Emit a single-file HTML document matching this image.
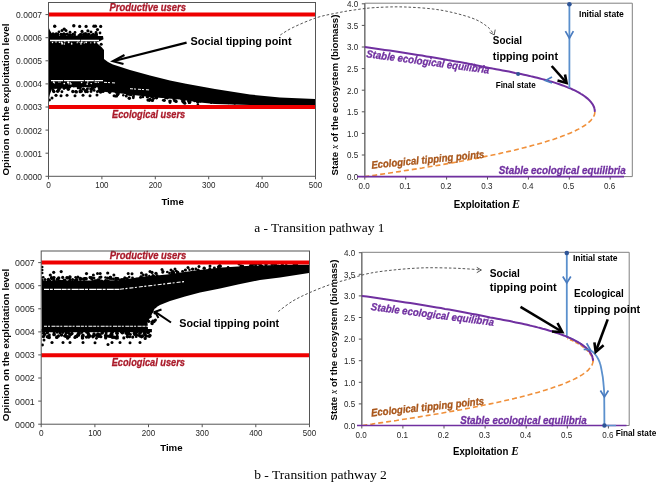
<!DOCTYPE html>
<html><head><meta charset="utf-8"><style>html,body{margin:0;padding:0;background:#fff;overflow:hidden;width:658px;height:483px;}svg{display:block;will-change:transform;}</style></head>
<body>
<svg width="658" height="483" viewBox="0 0 658 483">
<rect width="658" height="483" fill="#fff"/>
<path d="M48.5,27 L50,30.5 L53,35.5 L103,36 L103.5,39.3 L99,41.5 L96.5,42.5 L98.5,44.5 L101.5,47 L104,50 L104,59 L108,62 L113,64.5 L130,70 L150,75.5 L170,80.5 L186,83.8 L215,89 L250,94.5 L280,97.5 L315,99 L315,105.5 L280,105.5 L250,105 L215,104 L200,102.5 L180,99.5 L150,97 L125,94 L110,92 L104,90 L98,87.5 L90,87 L80,87.5 L70,87 L60,88 L52,89 L50,94 L48.5,101 Z" fill="#000"/>
<g fill="#000"><circle cx="54.7" cy="26.2" r="1.7"/><circle cx="73.8" cy="25.7" r="1.7"/><circle cx="79.7" cy="26.4" r="1.6"/><circle cx="86.1" cy="26.4" r="1.6"/><circle cx="93.9" cy="26.2" r="1.6"/><circle cx="95.5" cy="26.2" r="1.6"/><circle cx="100.7" cy="26.4" r="1.6"/><circle cx="97.5" cy="29.6" r="1.6"/><circle cx="64.2" cy="29.1" r="1.7"/><circle cx="82" cy="31.4" r="1.6"/><circle cx="87.9" cy="30.8" r="1.6"/><circle cx="101.2" cy="44.2" r="1.5"/><circle cx="56" cy="95.3" r="1.6"/><circle cx="61" cy="95.8" r="1.5"/><circle cx="67" cy="95.3" r="1.5"/><circle cx="75" cy="95.8" r="1.5"/><circle cx="83" cy="95.3" r="1.5"/><circle cx="90" cy="95.8" r="1.5"/><circle cx="97" cy="95" r="1.5"/><circle cx="52" cy="98" r="1.5"/><circle cx="49.5" cy="100" r="1.4"/><circle cx="67.2" cy="34.1" r="1.58"/><circle cx="53.8" cy="35.0" r="1.43"/><circle cx="53.1" cy="34.9" r="1.27"/><circle cx="73.0" cy="34.0" r="1.3"/><circle cx="72.5" cy="35.6" r="1.31"/><circle cx="61.8" cy="35.2" r="1.72"/><circle cx="80.6" cy="34.7" r="1.74"/><circle cx="52.5" cy="35.7" r="1.39"/><circle cx="57.6" cy="34.1" r="1.4"/><circle cx="93.3" cy="34.2" r="1.54"/><circle cx="83.9" cy="34.6" r="1.52"/><circle cx="53.3" cy="33.9" r="1.35"/><circle cx="86.1" cy="34.7" r="1.41"/><circle cx="81.0" cy="34.8" r="1.4"/><circle cx="92.1" cy="35.3" r="1.37"/><circle cx="80.4" cy="35.0" r="1.69"/><circle cx="88.7" cy="34.4" r="1.74"/><circle cx="56.3" cy="34.7" r="1.63"/><circle cx="58.1" cy="34.9" r="1.27"/><circle cx="85.4" cy="35.5" r="1.54"/><circle cx="96.4" cy="34.5" r="1.6"/><circle cx="81.5" cy="35.1" r="1.48"/><circle cx="94.5" cy="35.9" r="1.49"/><circle cx="85.2" cy="33.9" r="1.6"/><circle cx="84.3" cy="36.0" r="1.66"/><circle cx="65.1" cy="34.6" r="1.58"/><circle cx="51.2" cy="34.8" r="1.33"/><circle cx="56.2" cy="33.9" r="1.63"/><circle cx="56.9" cy="34.3" r="1.45"/><circle cx="96.2" cy="34.0" r="1.47"/><circle cx="79.1" cy="35.7" r="1.66"/><circle cx="95.8" cy="34.4" r="1.46"/><circle cx="69.0" cy="35.7" r="1.73"/><circle cx="58.0" cy="34.2" r="1.37"/><circle cx="62.4" cy="34.9" r="1.54"/><circle cx="63.9" cy="33.8" r="1.46"/><circle cx="69.6" cy="35.0" r="1.73"/><circle cx="86.6" cy="34.9" r="1.56"/><circle cx="85.8" cy="33.9" r="1.7"/><circle cx="91.3" cy="35.7" r="1.65"/><circle cx="70.8" cy="34.7" r="1.3"/><circle cx="83.6" cy="33.9" r="1.28"/><circle cx="61.1" cy="34.2" r="1.42"/><circle cx="52.8" cy="33.8" r="1.33"/><circle cx="55.4" cy="34.6" r="1.26"/><circle cx="96.3" cy="35.2" r="1.32"/><circle cx="63.4" cy="34.6" r="1.43"/><circle cx="56.5" cy="35.7" r="1.75"/><circle cx="74.7" cy="34.9" r="1.29"/><circle cx="55.4" cy="34.6" r="1.38"/><circle cx="62" cy="30.5" r="1.5"/><circle cx="66" cy="30.5" r="1.5"/><circle cx="59" cy="31.8" r="1.4"/><circle cx="91" cy="32" r="1.5"/><circle cx="75" cy="32.5" r="1.4"/><circle cx="70" cy="32.2" r="1.4"/><circle cx="96" cy="32.5" r="1.4"/><circle cx="100" cy="33" r="1.4"/><circle cx="94.8" cy="87.0" r="1.26"/><circle cx="101.4" cy="89.2" r="1.32"/><circle cx="79.3" cy="86.2" r="1.51"/><circle cx="102.8" cy="91.2" r="1.6"/><circle cx="64.1" cy="88.2" r="1.33"/><circle cx="91.7" cy="89.2" r="1.64"/><circle cx="67.8" cy="87.3" r="1.66"/><circle cx="103.2" cy="91.1" r="1.65"/><circle cx="94.2" cy="90.4" r="1.36"/><circle cx="78.0" cy="88.1" r="1.26"/><circle cx="51.5" cy="87.7" r="1.38"/><circle cx="87.4" cy="91.7" r="1.47"/><circle cx="100.6" cy="91.9" r="1.73"/><circle cx="69.7" cy="87.3" r="1.36"/><circle cx="60.6" cy="87.2" r="1.56"/><circle cx="98.6" cy="91.0" r="1.49"/><circle cx="85.3" cy="90.8" r="1.29"/><circle cx="85.7" cy="91.5" r="1.64"/><circle cx="90.5" cy="88.9" r="1.34"/><circle cx="92.6" cy="88.0" r="1.65"/><circle cx="102.5" cy="88.4" r="1.45"/><circle cx="101.1" cy="90.3" r="1.34"/><circle cx="56.9" cy="86.9" r="1.7"/><circle cx="93.6" cy="86.9" r="1.66"/><circle cx="102.9" cy="89.9" r="1.43"/><circle cx="79.6" cy="86.8" r="1.26"/><circle cx="102.4" cy="89.9" r="1.51"/><circle cx="100.4" cy="88.6" r="1.69"/><circle cx="94.6" cy="87.3" r="1.38"/><circle cx="65.8" cy="87.4" r="1.54"/><circle cx="64.0" cy="88.5" r="1.32"/><circle cx="99.1" cy="88.1" r="1.48"/><circle cx="81.5" cy="91.4" r="1.46"/><circle cx="99.6" cy="89.0" r="1.52"/><circle cx="78.3" cy="86.1" r="1.47"/><circle cx="59.9" cy="86.0" r="1.65"/><circle cx="59.3" cy="88.8" r="1.61"/><circle cx="80.0" cy="88.0" r="1.51"/><circle cx="80.0" cy="90.7" r="1.3"/><circle cx="80.3" cy="87.5" r="1.39"/><circle cx="91.7" cy="89.0" r="1.53"/><circle cx="91.0" cy="91.5" r="1.47"/><circle cx="83.1" cy="89.0" r="1.51"/><circle cx="87.4" cy="88.7" r="1.52"/><circle cx="75.8" cy="91.6" r="1.6"/><circle cx="97.3" cy="91.7" r="1.38"/><circle cx="80.2" cy="91.7" r="1.67"/><circle cx="57.4" cy="86.7" r="1.47"/><circle cx="53.9" cy="87.4" r="1.29"/><circle cx="86.2" cy="90.7" r="1.7"/><circle cx="58.3" cy="90.3" r="1.58"/><circle cx="57.7" cy="91.3" r="1.73"/><circle cx="61.9" cy="91.7" r="1.45"/><circle cx="76.3" cy="91.9" r="1.67"/><circle cx="58.7" cy="88.6" r="1.51"/><circle cx="68.3" cy="87.2" r="1.41"/><circle cx="89.0" cy="86.1" r="1.53"/><circle cx="73.8" cy="86.1" r="1.42"/><circle cx="83.7" cy="89.1" r="1.28"/><circle cx="103.2" cy="90.7" r="1.74"/><circle cx="55.7" cy="87.6" r="1.27"/><circle cx="92.1" cy="87.6" r="1.31"/><circle cx="72.8" cy="91.5" r="1.66"/><circle cx="64.0" cy="86.9" r="1.71"/><circle cx="80.8" cy="90.2" r="1.29"/><circle cx="53.1" cy="90.1" r="1.46"/><circle cx="53.9" cy="91.6" r="1.57"/><circle cx="93.3" cy="86.5" r="1.68"/><circle cx="53.6" cy="91.2" r="1.48"/><circle cx="68.3" cy="89.3" r="1.71"/><circle cx="129.7" cy="94.2" r="1.51"/><circle cx="126.9" cy="93.8" r="1.33"/><circle cx="108.8" cy="91.6" r="1.41"/><circle cx="133.3" cy="97.8" r="1.39"/><circle cx="152.0" cy="97.1" r="1.42"/><circle cx="105.7" cy="90.8" r="1.26"/><circle cx="174.4" cy="100.8" r="1.34"/><circle cx="149.6" cy="100.6" r="1.3"/><circle cx="182.6" cy="100.9" r="1.5"/><circle cx="184.1" cy="100.8" r="1.5"/><circle cx="170.0" cy="102.6" r="1.42"/><circle cx="183.9" cy="102.3" r="1.57"/><circle cx="142.9" cy="96.9" r="1.28"/><circle cx="116.5" cy="92.2" r="1.62"/><circle cx="128.5" cy="94.2" r="1.29"/><circle cx="184.8" cy="103.2" r="1.59"/><circle cx="131.1" cy="94.9" r="1.4"/><circle cx="148.1" cy="96.6" r="1.47"/><circle cx="129.3" cy="98.3" r="1.74"/><circle cx="156.5" cy="97.8" r="1.73"/><circle cx="133.7" cy="95.8" r="1.25"/><circle cx="140.6" cy="97.2" r="1.5"/><circle cx="123.3" cy="95.3" r="1.25"/><circle cx="129.4" cy="94.0" r="1.45"/><circle cx="108.0" cy="90.4" r="1.4"/><circle cx="126.3" cy="96.1" r="1.51"/><circle cx="176.1" cy="101.5" r="1.61"/><circle cx="188.4" cy="101.1" r="1.41"/><circle cx="198.5" cy="100.6" r="1.61"/><circle cx="165.7" cy="97.5" r="1.67"/><circle cx="189.6" cy="102.4" r="1.62"/><circle cx="182.0" cy="99.3" r="1.51"/><circle cx="152.4" cy="100.4" r="1.65"/><circle cx="183.3" cy="101.7" r="1.7"/><circle cx="169.6" cy="101.1" r="1.36"/><circle cx="107.0" cy="90.7" r="1.43"/><circle cx="114.1" cy="95.7" r="1.53"/><circle cx="164.3" cy="100.3" r="1.59"/><circle cx="151.0" cy="96.1" r="1.65"/><circle cx="175.8" cy="100.7" r="1.52"/><circle cx="167.3" cy="97.8" r="1.62"/><circle cx="128.2" cy="93.8" r="1.38"/><circle cx="174.0" cy="99.0" r="1.62"/><circle cx="197.7" cy="102.3" r="1.44"/><circle cx="150.0" cy="99.4" r="1.63"/><circle cx="163.2" cy="100.3" r="1.29"/><circle cx="118.2" cy="93.4" r="1.62"/><circle cx="133.2" cy="96.8" r="1.26"/><circle cx="109.8" cy="92.3" r="1.59"/><circle cx="170.4" cy="101.1" r="1.4"/><circle cx="153.6" cy="98.6" r="1.48"/><circle cx="115.4" cy="96.2" r="1.35"/><circle cx="197.9" cy="104.5" r="1.26"/><circle cx="148.1" cy="99.9" r="1.73"/><circle cx="147.1" cy="97.0" r="1.35"/><circle cx="194.8" cy="100.7" r="1.54"/><circle cx="117.6" cy="94.6" r="1.73"/><circle cx="116.7" cy="96.0" r="1.5"/><circle cx="189.1" cy="102.7" r="1.37"/><circle cx="190.2" cy="101.7" r="1.26"/><circle cx="200.4" cy="101.3" r="1.28"/><circle cx="233.2" cy="101.9" r="1.22"/><circle cx="234.8" cy="103.7" r="1.05"/><circle cx="282.6" cy="104.6" r="1.11"/><circle cx="301.9" cy="104.6" r="1.5"/><circle cx="231.9" cy="102.4" r="1.25"/><circle cx="309.9" cy="104.4" r="1.23"/><circle cx="247.1" cy="102.6" r="1.07"/><circle cx="211.2" cy="102.8" r="1.19"/><circle cx="302.9" cy="103.4" r="1.18"/><circle cx="256.2" cy="102.6" r="1.24"/><circle cx="305.2" cy="105.1" r="1.46"/><circle cx="269.4" cy="104.6" r="1.52"/><circle cx="260.4" cy="104.0" r="1.07"/><circle cx="280.6" cy="103.6" r="1.43"/><circle cx="270.9" cy="103.0" r="1.07"/><circle cx="301.9" cy="103.1" r="1.29"/><circle cx="237.8" cy="102.4" r="1.42"/><circle cx="307.4" cy="103.5" r="1.38"/><circle cx="233.1" cy="102.9" r="1.25"/><circle cx="218.4" cy="101.5" r="1.15"/><circle cx="299.7" cy="104.0" r="1.16"/><circle cx="299.7" cy="105.3" r="1.27"/><circle cx="215.4" cy="101.5" r="1.1"/><circle cx="237.6" cy="101.9" r="1.17"/><circle cx="228.4" cy="102.8" r="1.49"/><circle cx="282.5" cy="103.5" r="1.26"/><circle cx="257.7" cy="103.1" r="1.22"/><circle cx="206.8" cy="101.1" r="1.53"/><circle cx="213.8" cy="102.2" r="1.36"/><circle cx="294.9" cy="103.2" r="1.19"/><circle cx="227.3" cy="102.4" r="1.27"/><circle cx="304.9" cy="105.0" r="1.49"/><circle cx="202.4" cy="100.2" r="1.4"/><circle cx="298.5" cy="103.9" r="1.34"/><circle cx="200.0" cy="101.0" r="1.51"/><circle cx="290.8" cy="104.8" r="1.54"/><circle cx="227.3" cy="101.6" r="1.13"/><circle cx="257.5" cy="103.8" r="1.52"/><circle cx="279.4" cy="104.1" r="1.43"/></g>
<line x1="50" y1="40.5" x2="99" y2="40.5" stroke="#fff" stroke-width="1.6" stroke-dasharray="30 0.6 20 0.8 40"/>
<line x1="51" y1="80.7" x2="103" y2="80.7" stroke="#fff" stroke-width="1.3" stroke-dasharray="12 0.8 20 1 9 0.7 30"/>
<line x1="104" y1="82.3" x2="116" y2="83" stroke="#fff" stroke-width="1" stroke-dasharray="3 1 2 2"/>
<line x1="130" y1="88.7" x2="150" y2="90" stroke="#fff" stroke-width="1" stroke-dasharray="3 1 2 2"/>
<g fill="#fff"><circle cx="71.6" cy="43.0" r="0.57"/><circle cx="86.2" cy="42.3" r="0.92"/><circle cx="80.0" cy="42.5" r="0.6"/><circle cx="62.3" cy="43.2" r="0.83"/><circle cx="56.0" cy="42.0" r="0.76"/><circle cx="77.2" cy="42.7" r="0.64"/><circle cx="78.0" cy="41.8" r="0.67"/><circle cx="71.7" cy="43.9" r="0.81"/><circle cx="90.8" cy="42.8" r="0.64"/><circle cx="62.1" cy="43.9" r="0.83"/><circle cx="64.8" cy="41.8" r="0.75"/><circle cx="81.4" cy="42.7" r="0.65"/><circle cx="81.0" cy="43.8" r="0.64"/><circle cx="52.5" cy="42.5" r="0.72"/><circle cx="81.7" cy="42.2" r="0.87"/><circle cx="84.3" cy="42.9" r="0.63"/><circle cx="94.6" cy="42.5" r="0.88"/><circle cx="61.4" cy="42.3" r="0.85"/><circle cx="64.3" cy="43.9" r="0.75"/><circle cx="59.4" cy="42.3" r="0.72"/><circle cx="80.9" cy="43.9" r="0.61"/><circle cx="68.7" cy="42.3" r="0.94"/><circle cx="58.8" cy="82.1" r="0.52"/><circle cx="70.9" cy="83.8" r="0.85"/><circle cx="87.2" cy="84.0" r="0.87"/><circle cx="67.8" cy="82.4" r="0.87"/><circle cx="87.8" cy="82.1" r="0.77"/><circle cx="70.2" cy="82.7" r="0.63"/><circle cx="60.1" cy="82.0" r="0.61"/><circle cx="68.9" cy="83.9" r="0.55"/><circle cx="98.3" cy="82.4" r="0.64"/><circle cx="91.4" cy="83.6" r="0.67"/><circle cx="54.4" cy="82.9" r="0.65"/><circle cx="96.1" cy="82.4" r="0.65"/><circle cx="95.1" cy="82.1" r="0.66"/><circle cx="91.0" cy="83.5" r="0.52"/><circle cx="53.7" cy="82.1" r="0.87"/><circle cx="64.3" cy="83.5" r="0.86"/><circle cx="68.3" cy="82.5" r="0.88"/><circle cx="81.6" cy="82.5" r="0.79"/></g>
<line x1="48.5" y1="14.6" x2="315.5" y2="14.6" stroke="#ee0000" stroke-width="4"/>
<line x1="48.5" y1="107" x2="315.5" y2="107" stroke="#ee0000" stroke-width="4"/>
<text x="109.5" y="10.6" font-family="Liberation Sans, sans-serif" font-size="10.8" fill="#aa1a2a" font-weight="bold" font-style="italic" text-anchor="start" textLength="76.5" lengthAdjust="spacingAndGlyphs" stroke="#aa1a2a" stroke-width="0.3">Productive users</text>
<text x="112.0" y="117.9" font-family="Liberation Sans, sans-serif" font-size="10.8" fill="#aa1a2a" font-weight="bold" font-style="italic" text-anchor="start" textLength="73.2" lengthAdjust="spacingAndGlyphs" stroke="#aa1a2a" stroke-width="0.3">Ecological users</text>
<rect x="48.5" y="2.5" width="267.0" height="173.8" fill="none" stroke="#555" stroke-width="1"/>
<line x1="45.5" y1="176.3" x2="48.5" y2="176.3" stroke="#555" stroke-width="1"/>
<text x="42.1" y="179.7" font-family="Liberation Sans, sans-serif" font-size="9.5" fill="#262626" font-weight="normal" font-style="normal" text-anchor="end" textLength="26" lengthAdjust="spacingAndGlyphs" >0.0000</text>
<line x1="45.5" y1="153.2" x2="48.5" y2="153.2" stroke="#555" stroke-width="1"/>
<text x="42.1" y="156.6" font-family="Liberation Sans, sans-serif" font-size="9.5" fill="#262626" font-weight="normal" font-style="normal" text-anchor="end" textLength="26" lengthAdjust="spacingAndGlyphs" >0.0001</text>
<line x1="45.5" y1="130.1" x2="48.5" y2="130.1" stroke="#555" stroke-width="1"/>
<text x="42.1" y="133.5" font-family="Liberation Sans, sans-serif" font-size="9.5" fill="#262626" font-weight="normal" font-style="normal" text-anchor="end" textLength="26" lengthAdjust="spacingAndGlyphs" >0.0002</text>
<line x1="45.5" y1="107.0" x2="48.5" y2="107.0" stroke="#555" stroke-width="1"/>
<text x="42.1" y="110.4" font-family="Liberation Sans, sans-serif" font-size="9.5" fill="#262626" font-weight="normal" font-style="normal" text-anchor="end" textLength="26" lengthAdjust="spacingAndGlyphs" >0.0003</text>
<line x1="45.5" y1="83.9" x2="48.5" y2="83.9" stroke="#555" stroke-width="1"/>
<text x="42.1" y="87.3" font-family="Liberation Sans, sans-serif" font-size="9.5" fill="#262626" font-weight="normal" font-style="normal" text-anchor="end" textLength="26" lengthAdjust="spacingAndGlyphs" >0.0004</text>
<line x1="45.5" y1="60.8" x2="48.5" y2="60.8" stroke="#555" stroke-width="1"/>
<text x="42.1" y="64.2" font-family="Liberation Sans, sans-serif" font-size="9.5" fill="#262626" font-weight="normal" font-style="normal" text-anchor="end" textLength="26" lengthAdjust="spacingAndGlyphs" >0.0005</text>
<line x1="45.5" y1="37.7" x2="48.5" y2="37.7" stroke="#555" stroke-width="1"/>
<text x="42.1" y="41.1" font-family="Liberation Sans, sans-serif" font-size="9.5" fill="#262626" font-weight="normal" font-style="normal" text-anchor="end" textLength="26" lengthAdjust="spacingAndGlyphs" >0.0006</text>
<line x1="45.5" y1="14.6" x2="48.5" y2="14.6" stroke="#555" stroke-width="1"/>
<text x="42.1" y="18.0" font-family="Liberation Sans, sans-serif" font-size="9.5" fill="#262626" font-weight="normal" font-style="normal" text-anchor="end" textLength="26" lengthAdjust="spacingAndGlyphs" >0.0007</text>
<line x1="48.5" y1="176.3" x2="48.5" y2="179.3" stroke="#555" stroke-width="1"/>
<text x="48.5" y="187.9" font-family="Liberation Sans, sans-serif" font-size="9.3" fill="#262626" font-weight="normal" font-style="normal" text-anchor="middle" textLength="4.6" lengthAdjust="spacingAndGlyphs" >0</text>
<line x1="101.9" y1="176.3" x2="101.9" y2="179.3" stroke="#555" stroke-width="1"/>
<text x="101.9" y="187.9" font-family="Liberation Sans, sans-serif" font-size="9.3" fill="#262626" font-weight="normal" font-style="normal" text-anchor="middle" textLength="13.3" lengthAdjust="spacingAndGlyphs" >100</text>
<line x1="155.3" y1="176.3" x2="155.3" y2="179.3" stroke="#555" stroke-width="1"/>
<text x="155.3" y="187.9" font-family="Liberation Sans, sans-serif" font-size="9.3" fill="#262626" font-weight="normal" font-style="normal" text-anchor="middle" textLength="13.3" lengthAdjust="spacingAndGlyphs" >200</text>
<line x1="208.7" y1="176.3" x2="208.7" y2="179.3" stroke="#555" stroke-width="1"/>
<text x="208.7" y="187.9" font-family="Liberation Sans, sans-serif" font-size="9.3" fill="#262626" font-weight="normal" font-style="normal" text-anchor="middle" textLength="13.3" lengthAdjust="spacingAndGlyphs" >300</text>
<line x1="262.1" y1="176.3" x2="262.1" y2="179.3" stroke="#555" stroke-width="1"/>
<text x="262.1" y="187.9" font-family="Liberation Sans, sans-serif" font-size="9.3" fill="#262626" font-weight="normal" font-style="normal" text-anchor="middle" textLength="13.3" lengthAdjust="spacingAndGlyphs" >400</text>
<line x1="315.5" y1="176.3" x2="315.5" y2="179.3" stroke="#555" stroke-width="1"/>
<text x="315.5" y="187.9" font-family="Liberation Sans, sans-serif" font-size="9.3" fill="#262626" font-weight="normal" font-style="normal" text-anchor="middle" textLength="13.3" lengthAdjust="spacingAndGlyphs" >500</text>
<text x="172.6" y="205.4" font-family="Liberation Sans, sans-serif" font-size="9.5" fill="#000" font-weight="bold" font-style="normal" text-anchor="middle" textLength="22.4" lengthAdjust="spacingAndGlyphs" >Time</text>
<text x="9.0" y="99.6" font-family="Liberation Sans, sans-serif" font-size="9.6" fill="#000" font-weight="bold" font-style="normal" text-anchor="middle" textLength="152" lengthAdjust="spacingAndGlyphs" transform="rotate(-90 9.0 99.6)" >Opinion on the exploitation level</text>
<text x="190.6" y="44.8" font-family="Liberation Sans, sans-serif" font-size="11" fill="#000" font-weight="bold" font-style="normal" text-anchor="start" textLength="101" lengthAdjust="spacingAndGlyphs" >Social tipping point</text>
<line x1="186.6" y1="42.6" x2="114" y2="61" stroke="#000" stroke-width="2.2"/>
<polyline points="124.5,55 113,61.2 123.5,64" fill="none" stroke="#000" stroke-width="2.2"/>
<path d="M41.5,276 L43,279.5 L44,281 L60,280.5 L90,280.5 L120,280.2 L140,277 L167,274.5 L195,270.5 L222,267.5 L250,265.8 L277,265 L309,264.8 L309,273 L280,277.5 L260,280 L239,284.2 L220,288.5 L200,292.5 L185,296.5 L170,301 L160,305 L155,308 L153,312 L150,318 L147.5,322 L148,329 L42,329 Z" fill="#000"/>
<path d="M41.5,329 L151.9,329 L151.9,332.2 L41.5,332.2 Z" fill="#000"/>
<g fill="#000"><circle cx="50.3" cy="275" r="1.6"/><circle cx="53.7" cy="272.3" r="1.6"/><circle cx="61.2" cy="271.6" r="1.6"/><circle cx="86.5" cy="273.6" r="1.6"/><circle cx="93.4" cy="275" r="1.5"/><circle cx="97.5" cy="273.6" r="1.5"/><circle cx="100.2" cy="273.6" r="1.5"/><circle cx="107.7" cy="273" r="1.6"/><circle cx="113.9" cy="275" r="1.5"/><circle cx="124.8" cy="277.7" r="1.5"/><circle cx="128.2" cy="273.6" r="1.5"/><circle cx="132" cy="273.8" r="1.5"/><circle cx="141.5" cy="273" r="1.5"/><circle cx="152" cy="272.4" r="1.6"/><circle cx="163" cy="271.5" r="1.5"/><circle cx="171" cy="270" r="1.5"/><circle cx="42.3" cy="267" r="1.2"/><circle cx="42.3" cy="270" r="1.2"/><circle cx="42.3" cy="273" r="1.2"/><circle cx="52" cy="342.5" r="1.6"/><circle cx="63" cy="342.5" r="1.5"/><circle cx="70" cy="342.5" r="1.5"/><circle cx="83" cy="342.5" r="1.5"/><circle cx="95" cy="342.8" r="1.5"/><circle cx="112" cy="342.5" r="1.5"/><circle cx="120" cy="342.5" r="1.5"/><circle cx="130" cy="342.8" r="1.5"/><circle cx="140" cy="342.5" r="1.5"/><circle cx="108" cy="344.5" r="1.5"/><circle cx="44" cy="340" r="1.5"/><circle cx="42.5" cy="345" r="1.4"/><circle cx="84.8" cy="278.2" r="1.25"/><circle cx="142.7" cy="281.1" r="1.57"/><circle cx="167.5" cy="277.1" r="1.37"/><circle cx="105.7" cy="281.3" r="1.73"/><circle cx="94.0" cy="278.1" r="1.46"/><circle cx="108.1" cy="281.2" r="1.34"/><circle cx="148.9" cy="280.3" r="1.66"/><circle cx="145.0" cy="279.7" r="1.41"/><circle cx="85.2" cy="278.6" r="1.64"/><circle cx="53.4" cy="277.9" r="1.63"/><circle cx="75.6" cy="277.3" r="1.27"/><circle cx="115.9" cy="278.5" r="1.74"/><circle cx="159.6" cy="281.4" r="1.38"/><circle cx="54.1" cy="277.4" r="1.5"/><circle cx="136.7" cy="279.0" r="1.37"/><circle cx="98.0" cy="279.8" r="1.59"/><circle cx="141.7" cy="280.8" r="1.58"/><circle cx="59.0" cy="280.8" r="1.4"/><circle cx="117.8" cy="278.7" r="1.62"/><circle cx="69.3" cy="278.1" r="1.37"/><circle cx="63.2" cy="281.0" r="1.54"/><circle cx="86.1" cy="278.8" r="1.75"/><circle cx="110.0" cy="278.0" r="1.65"/><circle cx="129.2" cy="281.5" r="1.3"/><circle cx="105.7" cy="280.7" r="1.67"/><circle cx="163.7" cy="277.2" r="1.4"/><circle cx="58.7" cy="277.9" r="1.74"/><circle cx="120.0" cy="281.2" r="1.44"/><circle cx="157.3" cy="279.0" r="1.38"/><circle cx="145.7" cy="281.3" r="1.3"/><circle cx="121.7" cy="279.8" r="1.36"/><circle cx="91.7" cy="277.6" r="1.35"/><circle cx="76.6" cy="279.7" r="1.58"/><circle cx="69.9" cy="277.1" r="1.41"/><circle cx="132.5" cy="277.8" r="1.41"/><circle cx="69.8" cy="280.6" r="1.52"/><circle cx="51.4" cy="277.5" r="1.45"/><circle cx="115.6" cy="279.9" r="1.3"/><circle cx="64.6" cy="280.1" r="1.45"/><circle cx="80.4" cy="278.4" r="1.73"/><circle cx="84.2" cy="279.5" r="1.43"/><circle cx="98.0" cy="280.9" r="1.75"/><circle cx="91.0" cy="277.9" r="1.61"/><circle cx="69.9" cy="277.0" r="1.7"/><circle cx="98.9" cy="280.7" r="1.45"/><circle cx="159.5" cy="279.1" r="1.33"/><circle cx="45.0" cy="279.5" r="1.57"/><circle cx="163.1" cy="277.4" r="1.56"/><circle cx="92.0" cy="279.3" r="1.32"/><circle cx="80.4" cy="279.3" r="1.71"/><circle cx="57.4" cy="279.2" r="1.65"/><circle cx="170.6" cy="277.9" r="1.31"/><circle cx="167.5" cy="281.4" r="1.49"/><circle cx="50.0" cy="281.2" r="1.44"/><circle cx="162.4" cy="279.8" r="1.66"/><circle cx="64.2" cy="280.5" r="1.36"/><circle cx="96.4" cy="280.8" r="1.66"/><circle cx="67.2" cy="278.0" r="1.45"/><circle cx="111.4" cy="278.7" r="1.31"/><circle cx="75.6" cy="280.3" r="1.7"/><circle cx="48.4" cy="279.5" r="1.63"/><circle cx="48.0" cy="280.8" r="1.31"/><circle cx="122.1" cy="279.5" r="1.56"/><circle cx="83.4" cy="278.9" r="1.54"/><circle cx="99.2" cy="280.0" r="1.47"/><circle cx="100.9" cy="277.1" r="1.56"/><circle cx="107.6" cy="278.1" r="1.63"/><circle cx="146.0" cy="279.1" r="1.34"/><circle cx="105.5" cy="277.5" r="1.31"/><circle cx="99.8" cy="277.4" r="1.47"/><circle cx="110.3" cy="277.2" r="1.57"/><circle cx="53.9" cy="280.3" r="1.64"/><circle cx="110.5" cy="277.2" r="1.5"/><circle cx="92.9" cy="281.3" r="1.32"/><circle cx="156.1" cy="281.5" r="1.62"/><circle cx="150.6" cy="277.9" r="1.74"/><circle cx="107.9" cy="281.3" r="1.71"/><circle cx="64.8" cy="280.5" r="1.72"/><circle cx="51.6" cy="278.6" r="1.63"/><circle cx="64.0" cy="281.0" r="1.39"/><circle cx="150.7" cy="277.6" r="1.5"/><circle cx="164.4" cy="277.9" r="1.38"/><circle cx="109.8" cy="278.4" r="1.27"/><circle cx="67.0" cy="277.7" r="1.72"/><circle cx="132.7" cy="281.0" r="1.33"/><circle cx="146.6" cy="277.5" r="1.52"/><circle cx="127.0" cy="278.6" r="1.69"/><circle cx="116.3" cy="279.6" r="1.69"/><circle cx="56.8" cy="281.5" r="1.56"/><circle cx="95.0" cy="280.6" r="1.38"/><circle cx="173.7" cy="279.6" r="1.43"/><circle cx="143.9" cy="279.0" r="1.34"/><circle cx="141.2" cy="277.2" r="1.66"/><circle cx="76.5" cy="279.9" r="1.74"/><circle cx="120.3" cy="280.0" r="1.41"/><circle cx="43.2" cy="277.2" r="1.32"/><circle cx="124.3" cy="278.9" r="1.51"/><circle cx="161.2" cy="277.6" r="1.36"/><circle cx="129.2" cy="277.1" r="1.25"/><circle cx="89.9" cy="277.5" r="1.43"/><circle cx="72.6" cy="279.6" r="1.54"/><circle cx="70.0" cy="279.8" r="1.49"/><circle cx="60.8" cy="281.2" r="1.37"/><circle cx="62.7" cy="277.4" r="1.57"/><circle cx="158.0" cy="280.5" r="1.45"/><circle cx="77.9" cy="277.1" r="1.57"/><circle cx="117.2" cy="278.6" r="1.57"/><circle cx="101.6" cy="281.2" r="1.62"/><circle cx="75.8" cy="281.1" r="1.27"/><circle cx="113.2" cy="278.8" r="1.37"/><circle cx="149.3" cy="276.0" r="1.26"/><circle cx="228.1" cy="267.4" r="1.32"/><circle cx="171.9" cy="273.1" r="1.5"/><circle cx="242.7" cy="266.2" r="1.34"/><circle cx="189.5" cy="269.7" r="1.27"/><circle cx="282.3" cy="264.8" r="1.61"/><circle cx="141.0" cy="276.9" r="1.62"/><circle cx="214.4" cy="268.1" r="1.48"/><circle cx="176.2" cy="271.0" r="1.37"/><circle cx="146.2" cy="274.9" r="1.62"/><circle cx="251.2" cy="265.8" r="1.61"/><circle cx="182.6" cy="271.4" r="1.47"/><circle cx="266.2" cy="264.4" r="1.38"/><circle cx="242.7" cy="266.6" r="1.36"/><circle cx="280.8" cy="262.5" r="1.38"/><circle cx="177.8" cy="272.7" r="1.72"/><circle cx="259.4" cy="264.0" r="1.69"/><circle cx="192.6" cy="269.1" r="1.7"/><circle cx="240.9" cy="265.9" r="1.58"/><circle cx="296.6" cy="263.8" r="1.67"/><circle cx="251.6" cy="265.8" r="1.47"/><circle cx="255.9" cy="264.8" r="1.4"/><circle cx="173.9" cy="272.9" r="1.29"/><circle cx="285.7" cy="262.9" r="1.26"/><circle cx="157.1" cy="275.7" r="1.42"/><circle cx="162.7" cy="272.5" r="1.27"/><circle cx="250.8" cy="265.2" r="1.6"/><circle cx="257.9" cy="263.3" r="1.55"/><circle cx="198.1" cy="270.1" r="1.66"/><circle cx="282.6" cy="262.7" r="1.68"/><circle cx="286.3" cy="265.3" r="1.3"/><circle cx="172.9" cy="271.5" r="1.27"/><circle cx="275.6" cy="265.0" r="1.57"/><circle cx="272.0" cy="264.5" r="1.39"/><circle cx="156.0" cy="273.3" r="1.63"/><circle cx="172.8" cy="272.1" r="1.46"/><circle cx="143.3" cy="275.0" r="1.39"/><circle cx="254.5" cy="264.3" r="1.41"/><circle cx="294.2" cy="263.9" r="1.68"/><circle cx="238.9" cy="264.1" r="1.46"/><circle cx="209.8" cy="268.7" r="1.42"/><circle cx="252.7" cy="264.8" r="1.36"/><circle cx="278.0" cy="262.8" r="1.66"/><circle cx="167.3" cy="272.0" r="1.35"/><circle cx="261.9" cy="265.9" r="1.25"/><circle cx="218.5" cy="266.9" r="1.65"/><circle cx="169.5" cy="273.1" r="1.42"/><circle cx="273.1" cy="263.4" r="1.72"/><circle cx="185.4" cy="270.0" r="1.6"/><circle cx="219.7" cy="265.6" r="1.57"/><circle cx="152.9" cy="275.7" r="1.6"/><circle cx="265.9" cy="264.7" r="1.43"/><circle cx="204.2" cy="268.2" r="1.7"/><circle cx="153.8" cy="275.9" r="1.26"/><circle cx="173.0" cy="271.9" r="1.7"/><circle cx="220.2" cy="266.3" r="1.69"/><circle cx="177.4" cy="271.9" r="1.52"/><circle cx="260.7" cy="265.2" r="1.57"/><circle cx="195.8" cy="268.9" r="1.33"/><circle cx="274.9" cy="264.5" r="1.62"/><circle cx="150" cy="271.5" r="1.5"/><circle cx="162" cy="269.5" r="1.5"/><circle cx="175" cy="269" r="1.5"/><circle cx="188" cy="267.5" r="1.5"/><circle cx="199" cy="266.5" r="1.5"/><circle cx="210" cy="266" r="1.5"/><circle cx="61.5" cy="334.9" r="1.74"/><circle cx="106.1" cy="332.8" r="1.58"/><circle cx="139.5" cy="333.5" r="1.45"/><circle cx="75.9" cy="336.6" r="1.77"/><circle cx="59.9" cy="333.0" r="1.47"/><circle cx="78.6" cy="335.4" r="1.43"/><circle cx="78.8" cy="333.2" r="1.84"/><circle cx="122.4" cy="332.7" r="1.83"/><circle cx="54.1" cy="334.5" r="1.84"/><circle cx="129.6" cy="336.8" r="1.57"/><circle cx="64.4" cy="336.1" r="1.4"/><circle cx="65.5" cy="334.5" r="1.37"/><circle cx="86.5" cy="337.1" r="1.7"/><circle cx="97.6" cy="336.1" r="1.58"/><circle cx="58.5" cy="335.9" r="1.55"/><circle cx="123.8" cy="337.9" r="1.57"/><circle cx="105.6" cy="336.9" r="1.56"/><circle cx="67.9" cy="336.7" r="1.79"/><circle cx="127.4" cy="336.6" r="1.78"/><circle cx="117.1" cy="336.2" r="1.58"/><circle cx="77.1" cy="336.1" r="1.4"/><circle cx="88.7" cy="337.1" r="1.71"/><circle cx="111.6" cy="333.6" r="1.56"/><circle cx="92.6" cy="336.0" r="1.55"/><circle cx="116.6" cy="338.0" r="1.44"/><circle cx="114.3" cy="337.1" r="1.54"/><circle cx="96.4" cy="338.3" r="1.37"/><circle cx="102.2" cy="333.0" r="1.74"/><circle cx="145.5" cy="335.4" r="1.4"/><circle cx="105.6" cy="335.5" r="1.71"/><circle cx="98.8" cy="336.2" r="1.76"/><circle cx="99.9" cy="334.7" r="1.82"/><circle cx="65.9" cy="336.4" r="1.55"/><circle cx="126.1" cy="332.8" r="1.84"/><circle cx="81.7" cy="332.4" r="1.49"/><circle cx="86.6" cy="332.1" r="1.56"/><circle cx="88.8" cy="336.5" r="1.53"/><circle cx="71.9" cy="333.5" r="1.72"/><circle cx="145.5" cy="335.4" r="1.46"/><circle cx="130.4" cy="334.5" r="1.46"/><circle cx="57.1" cy="337.0" r="1.75"/><circle cx="112.1" cy="335.0" r="1.63"/><circle cx="67.6" cy="338.3" r="1.53"/><circle cx="112.6" cy="337.3" r="1.76"/><circle cx="94.0" cy="333.9" r="1.62"/><circle cx="56.6" cy="337.4" r="1.53"/><circle cx="135.7" cy="333.7" r="1.54"/><circle cx="70.6" cy="334.8" r="1.44"/><circle cx="43.3" cy="336.7" r="1.49"/><circle cx="69.7" cy="334.0" r="1.59"/><circle cx="89.7" cy="336.1" r="1.68"/><circle cx="82.5" cy="338.0" r="1.78"/><circle cx="49.2" cy="337.4" r="1.8"/><circle cx="128.5" cy="332.9" r="1.77"/><circle cx="112.0" cy="332.1" r="1.36"/><circle cx="146.7" cy="336.3" r="1.48"/><circle cx="54.1" cy="332.9" r="1.47"/><circle cx="127.6" cy="334.3" r="1.43"/><circle cx="141.5" cy="337.1" r="1.43"/><circle cx="140.1" cy="336.0" r="1.74"/><circle cx="115.9" cy="337.8" r="1.74"/><circle cx="134.4" cy="333.3" r="1.7"/><circle cx="100.9" cy="336.8" r="1.57"/><circle cx="139.2" cy="335.6" r="1.48"/><circle cx="68.5" cy="332.9" r="1.6"/><circle cx="49.4" cy="335.0" r="1.42"/><circle cx="96.6" cy="335.2" r="1.62"/><circle cx="137.1" cy="332.0" r="1.77"/><circle cx="94.0" cy="335.7" r="1.68"/><circle cx="134.6" cy="334.4" r="1.56"/><circle cx="147.7" cy="332.5" r="1.67"/><circle cx="112.3" cy="332.2" r="1.65"/><circle cx="117.4" cy="338.1" r="1.52"/><circle cx="150.0" cy="335.3" r="1.59"/><circle cx="140.8" cy="332.2" r="1.71"/><circle cx="111.2" cy="334.2" r="1.78"/><circle cx="82.9" cy="335.1" r="1.61"/><circle cx="127.0" cy="333.4" r="1.57"/><circle cx="89.0" cy="335.6" r="1.76"/><circle cx="74.9" cy="337.4" r="1.55"/><circle cx="97.9" cy="333.8" r="1.6"/><circle cx="149.3" cy="336.3" r="1.75"/><circle cx="79.1" cy="334.1" r="1.5"/><circle cx="106.9" cy="336.1" r="1.74"/><circle cx="47.4" cy="336.7" r="1.79"/><circle cx="102.4" cy="332.3" r="1.5"/><circle cx="43.7" cy="333.2" r="1.81"/><circle cx="109.3" cy="336.3" r="1.74"/><circle cx="142.2" cy="336.0" r="1.66"/><circle cx="111.3" cy="336.5" r="1.65"/><circle cx="117.2" cy="333.4" r="1.68"/><circle cx="92.9" cy="337.0" r="1.4"/><circle cx="62.8" cy="332.2" r="1.74"/><circle cx="142.6" cy="336.3" r="1.53"/><circle cx="132.7" cy="337.1" r="1.63"/><circle cx="71.1" cy="334.0" r="1.56"/><circle cx="77.7" cy="334.8" r="1.67"/><circle cx="144.8" cy="332.4" r="1.63"/><circle cx="47.3" cy="332.8" r="1.76"/><circle cx="105.7" cy="338.0" r="1.57"/><circle cx="44.5" cy="334.5" r="1.65"/><circle cx="145.2" cy="338.4" r="1.59"/><circle cx="88.0" cy="332.7" r="1.67"/><circle cx="66.1" cy="333.0" r="1.36"/><circle cx="43.5" cy="336.4" r="1.41"/><circle cx="148.3" cy="332.6" r="1.78"/><circle cx="57.1" cy="332.1" r="1.71"/><circle cx="69.4" cy="336.8" r="1.44"/><circle cx="48.5" cy="337.0" r="1.71"/><circle cx="136.2" cy="336.7" r="1.39"/><circle cx="111.5" cy="336.6" r="1.58"/><circle cx="144.6" cy="333.7" r="1.83"/><circle cx="121.2" cy="332.1" r="1.36"/><circle cx="113.9" cy="337.3" r="1.39"/><circle cx="76.9" cy="336.7" r="1.43"/><circle cx="136.8" cy="335.2" r="1.38"/><circle cx="83.1" cy="335.7" r="1.57"/><circle cx="116.8" cy="332.9" r="1.75"/><circle cx="82.6" cy="336.2" r="1.66"/><circle cx="88.6" cy="334.5" r="1.74"/><circle cx="155.4" cy="320.1" r="1.53"/><circle cx="148.9" cy="307.1" r="1.74"/><circle cx="153.0" cy="320.9" r="1.42"/><circle cx="152.1" cy="323.6" r="1.67"/><circle cx="152.0" cy="311.6" r="1.46"/><circle cx="154.9" cy="312.8" r="1.59"/><circle cx="152.0" cy="322.1" r="1.65"/><circle cx="148.8" cy="306.0" r="1.38"/><circle cx="150.2" cy="316.6" r="1.66"/><circle cx="154.9" cy="306.8" r="1.67"/><circle cx="154.1" cy="321.6" r="1.54"/><circle cx="148.7" cy="321.3" r="1.65"/></g>
<line x1="44" y1="289.4" x2="120" y2="289.3" stroke="#fff" stroke-width="1.3" stroke-dasharray="5 0.8 3 1.2 7 0.6"/>
<line x1="120" y1="289.3" x2="185" y2="281.5" stroke="#fff" stroke-width="1.1" stroke-dasharray="4 1.5 2 2"/>
<line x1="44" y1="326.3" x2="148" y2="326.3" stroke="#fff" stroke-width="1.1" stroke-dasharray="3 1 2 1.5 4 0.8"/>
<line x1="41.2" y1="262.6" x2="309.5" y2="262.6" stroke="#ee0000" stroke-width="4"/>
<line x1="41.2" y1="355.2" x2="309.5" y2="355.2" stroke="#ee0000" stroke-width="4"/>
<text x="109.7" y="258.9" font-family="Liberation Sans, sans-serif" font-size="10.8" fill="#aa1a2a" font-weight="bold" font-style="italic" text-anchor="start" textLength="76.5" lengthAdjust="spacingAndGlyphs" stroke="#aa1a2a" stroke-width="0.3">Productive users</text>
<text x="111.7" y="365.9" font-family="Liberation Sans, sans-serif" font-size="10.8" fill="#aa1a2a" font-weight="bold" font-style="italic" text-anchor="start" textLength="73.2" lengthAdjust="spacingAndGlyphs" stroke="#aa1a2a" stroke-width="0.3">Ecological users</text>
<rect x="41.2" y="251" width="268.3" height="173.2" fill="none" stroke="#555" stroke-width="1"/>
<line x1="38.2" y1="424.2" x2="41.2" y2="424.2" stroke="#555" stroke-width="1"/>
<text x="34.8" y="427.6" font-family="Liberation Sans, sans-serif" font-size="9.5" fill="#262626" font-weight="normal" font-style="normal" text-anchor="end" textLength="19.7" lengthAdjust="spacingAndGlyphs" >0000</text>
<line x1="38.2" y1="401.1" x2="41.2" y2="401.1" stroke="#555" stroke-width="1"/>
<text x="34.8" y="404.5" font-family="Liberation Sans, sans-serif" font-size="9.5" fill="#262626" font-weight="normal" font-style="normal" text-anchor="end" textLength="19.7" lengthAdjust="spacingAndGlyphs" >0001</text>
<line x1="38.2" y1="378.0" x2="41.2" y2="378.0" stroke="#555" stroke-width="1"/>
<text x="34.8" y="381.4" font-family="Liberation Sans, sans-serif" font-size="9.5" fill="#262626" font-weight="normal" font-style="normal" text-anchor="end" textLength="19.7" lengthAdjust="spacingAndGlyphs" >0002</text>
<line x1="38.2" y1="354.9" x2="41.2" y2="354.9" stroke="#555" stroke-width="1"/>
<text x="34.8" y="358.3" font-family="Liberation Sans, sans-serif" font-size="9.5" fill="#262626" font-weight="normal" font-style="normal" text-anchor="end" textLength="19.7" lengthAdjust="spacingAndGlyphs" >0003</text>
<line x1="38.2" y1="331.9" x2="41.2" y2="331.9" stroke="#555" stroke-width="1"/>
<text x="34.8" y="335.3" font-family="Liberation Sans, sans-serif" font-size="9.5" fill="#262626" font-weight="normal" font-style="normal" text-anchor="end" textLength="19.7" lengthAdjust="spacingAndGlyphs" >0004</text>
<line x1="38.2" y1="308.8" x2="41.2" y2="308.8" stroke="#555" stroke-width="1"/>
<text x="34.8" y="312.2" font-family="Liberation Sans, sans-serif" font-size="9.5" fill="#262626" font-weight="normal" font-style="normal" text-anchor="end" textLength="19.7" lengthAdjust="spacingAndGlyphs" >0005</text>
<line x1="38.2" y1="285.7" x2="41.2" y2="285.7" stroke="#555" stroke-width="1"/>
<text x="34.8" y="289.1" font-family="Liberation Sans, sans-serif" font-size="9.5" fill="#262626" font-weight="normal" font-style="normal" text-anchor="end" textLength="19.7" lengthAdjust="spacingAndGlyphs" >0006</text>
<line x1="38.2" y1="262.6" x2="41.2" y2="262.6" stroke="#555" stroke-width="1"/>
<text x="34.8" y="266.0" font-family="Liberation Sans, sans-serif" font-size="9.5" fill="#262626" font-weight="normal" font-style="normal" text-anchor="end" textLength="19.7" lengthAdjust="spacingAndGlyphs" >0007</text>
<line x1="41.2" y1="424.2" x2="41.2" y2="427.2" stroke="#555" stroke-width="1"/>
<text x="41.2" y="436.3" font-family="Liberation Sans, sans-serif" font-size="9.3" fill="#262626" font-weight="normal" font-style="normal" text-anchor="middle" textLength="4.6" lengthAdjust="spacingAndGlyphs" >0</text>
<line x1="94.9" y1="424.2" x2="94.9" y2="427.2" stroke="#555" stroke-width="1"/>
<text x="94.9" y="436.3" font-family="Liberation Sans, sans-serif" font-size="9.3" fill="#262626" font-weight="normal" font-style="normal" text-anchor="middle" textLength="13.3" lengthAdjust="spacingAndGlyphs" >100</text>
<line x1="148.5" y1="424.2" x2="148.5" y2="427.2" stroke="#555" stroke-width="1"/>
<text x="148.5" y="436.3" font-family="Liberation Sans, sans-serif" font-size="9.3" fill="#262626" font-weight="normal" font-style="normal" text-anchor="middle" textLength="13.3" lengthAdjust="spacingAndGlyphs" >200</text>
<line x1="202.2" y1="424.2" x2="202.2" y2="427.2" stroke="#555" stroke-width="1"/>
<text x="202.2" y="436.3" font-family="Liberation Sans, sans-serif" font-size="9.3" fill="#262626" font-weight="normal" font-style="normal" text-anchor="middle" textLength="13.3" lengthAdjust="spacingAndGlyphs" >300</text>
<line x1="255.8" y1="424.2" x2="255.8" y2="427.2" stroke="#555" stroke-width="1"/>
<text x="255.8" y="436.3" font-family="Liberation Sans, sans-serif" font-size="9.3" fill="#262626" font-weight="normal" font-style="normal" text-anchor="middle" textLength="13.3" lengthAdjust="spacingAndGlyphs" >400</text>
<line x1="309.5" y1="424.2" x2="309.5" y2="427.2" stroke="#555" stroke-width="1"/>
<text x="309.5" y="436.3" font-family="Liberation Sans, sans-serif" font-size="9.3" fill="#262626" font-weight="normal" font-style="normal" text-anchor="middle" textLength="13.3" lengthAdjust="spacingAndGlyphs" >500</text>
<text x="171.4" y="450.5" font-family="Liberation Sans, sans-serif" font-size="9.5" fill="#000" font-weight="bold" font-style="normal" text-anchor="middle" textLength="22.4" lengthAdjust="spacingAndGlyphs" >Time</text>
<text x="9.0" y="344.9" font-family="Liberation Sans, sans-serif" font-size="9.6" fill="#000" font-weight="bold" font-style="normal" text-anchor="middle" textLength="152.5" lengthAdjust="spacingAndGlyphs" transform="rotate(-90 9.0 344.9)" >Opinion on the exploitation level</text>
<text x="179.2" y="327.1" font-family="Liberation Sans, sans-serif" font-size="11" fill="#000" font-weight="bold" font-style="normal" text-anchor="start" textLength="100" lengthAdjust="spacingAndGlyphs" >Social tipping point</text>
<line x1="171" y1="322.5" x2="156" y2="312.3" stroke="#000" stroke-width="2"/>
<polyline points="161.5,309.5 155,311.8 158.5,318" fill="none" stroke="#000" stroke-width="2"/>
<line x1="364.8" y1="3.2" x2="632.3" y2="3.2" stroke="#808080" stroke-width="1"/>
<line x1="632.3" y1="3.2" x2="632.3" y2="176.6" stroke="#808080" stroke-width="1"/>
<line x1="364.8" y1="3.2" x2="364.8" y2="176.6" stroke="#7a7a7a" stroke-width="1.6"/>
<line x1="361.8" y1="176.6" x2="364.8" y2="176.6" stroke="#555" stroke-width="1"/>
<text x="358.2" y="179.9" font-family="Liberation Sans, sans-serif" font-size="9.2" fill="#262626" font-weight="normal" font-style="normal" text-anchor="end" textLength="11.2" lengthAdjust="spacingAndGlyphs" >0.0</text>
<line x1="361.8" y1="155.0" x2="364.8" y2="155.0" stroke="#555" stroke-width="1"/>
<text x="358.2" y="158.3" font-family="Liberation Sans, sans-serif" font-size="9.2" fill="#262626" font-weight="normal" font-style="normal" text-anchor="end" textLength="11.2" lengthAdjust="spacingAndGlyphs" >0.5</text>
<line x1="361.8" y1="133.4" x2="364.8" y2="133.4" stroke="#555" stroke-width="1"/>
<text x="358.2" y="136.7" font-family="Liberation Sans, sans-serif" font-size="9.2" fill="#262626" font-weight="normal" font-style="normal" text-anchor="end" textLength="11.2" lengthAdjust="spacingAndGlyphs" >1.0</text>
<line x1="361.8" y1="111.8" x2="364.8" y2="111.8" stroke="#555" stroke-width="1"/>
<text x="358.2" y="115.1" font-family="Liberation Sans, sans-serif" font-size="9.2" fill="#262626" font-weight="normal" font-style="normal" text-anchor="end" textLength="11.2" lengthAdjust="spacingAndGlyphs" >1.5</text>
<line x1="361.8" y1="90.2" x2="364.8" y2="90.2" stroke="#555" stroke-width="1"/>
<text x="358.2" y="93.5" font-family="Liberation Sans, sans-serif" font-size="9.2" fill="#262626" font-weight="normal" font-style="normal" text-anchor="end" textLength="11.2" lengthAdjust="spacingAndGlyphs" >2.0</text>
<line x1="361.8" y1="68.6" x2="364.8" y2="68.6" stroke="#555" stroke-width="1"/>
<text x="358.2" y="71.9" font-family="Liberation Sans, sans-serif" font-size="9.2" fill="#262626" font-weight="normal" font-style="normal" text-anchor="end" textLength="11.2" lengthAdjust="spacingAndGlyphs" >2.5</text>
<line x1="361.8" y1="47.0" x2="364.8" y2="47.0" stroke="#555" stroke-width="1"/>
<text x="358.2" y="50.3" font-family="Liberation Sans, sans-serif" font-size="9.2" fill="#262626" font-weight="normal" font-style="normal" text-anchor="end" textLength="11.2" lengthAdjust="spacingAndGlyphs" >3.0</text>
<line x1="361.8" y1="25.4" x2="364.8" y2="25.4" stroke="#555" stroke-width="1"/>
<text x="358.2" y="28.7" font-family="Liberation Sans, sans-serif" font-size="9.2" fill="#262626" font-weight="normal" font-style="normal" text-anchor="end" textLength="11.2" lengthAdjust="spacingAndGlyphs" >3.5</text>
<line x1="361.8" y1="3.8" x2="364.8" y2="3.8" stroke="#555" stroke-width="1"/>
<text x="358.2" y="7.1" font-family="Liberation Sans, sans-serif" font-size="9.2" fill="#262626" font-weight="normal" font-style="normal" text-anchor="end" textLength="11.2" lengthAdjust="spacingAndGlyphs" >4.0</text>
<line x1="364.8" y1="176.6" x2="364.8" y2="179.6" stroke="#555" stroke-width="1"/>
<text x="364.2" y="189.4" font-family="Liberation Sans, sans-serif" font-size="9.3" fill="#262626" font-weight="normal" font-style="normal" text-anchor="middle" textLength="11.2" lengthAdjust="spacingAndGlyphs" >0.0</text>
<line x1="405.7" y1="176.6" x2="405.7" y2="179.6" stroke="#555" stroke-width="1"/>
<text x="405.1" y="189.4" font-family="Liberation Sans, sans-serif" font-size="9.3" fill="#262626" font-weight="normal" font-style="normal" text-anchor="middle" textLength="11.2" lengthAdjust="spacingAndGlyphs" >0.1</text>
<line x1="446.6" y1="176.6" x2="446.6" y2="179.6" stroke="#555" stroke-width="1"/>
<text x="446.0" y="189.4" font-family="Liberation Sans, sans-serif" font-size="9.3" fill="#262626" font-weight="normal" font-style="normal" text-anchor="middle" textLength="11.2" lengthAdjust="spacingAndGlyphs" >0.2</text>
<line x1="487.5" y1="176.6" x2="487.5" y2="179.6" stroke="#555" stroke-width="1"/>
<text x="486.9" y="189.4" font-family="Liberation Sans, sans-serif" font-size="9.3" fill="#262626" font-weight="normal" font-style="normal" text-anchor="middle" textLength="11.2" lengthAdjust="spacingAndGlyphs" >0.3</text>
<line x1="528.4" y1="176.6" x2="528.4" y2="179.6" stroke="#555" stroke-width="1"/>
<text x="527.8" y="189.4" font-family="Liberation Sans, sans-serif" font-size="9.3" fill="#262626" font-weight="normal" font-style="normal" text-anchor="middle" textLength="11.2" lengthAdjust="spacingAndGlyphs" >0.4</text>
<line x1="569.3" y1="176.6" x2="569.3" y2="179.6" stroke="#555" stroke-width="1"/>
<text x="568.7" y="189.4" font-family="Liberation Sans, sans-serif" font-size="9.3" fill="#262626" font-weight="normal" font-style="normal" text-anchor="middle" textLength="11.2" lengthAdjust="spacingAndGlyphs" >0.5</text>
<line x1="610.2" y1="176.6" x2="610.2" y2="179.6" stroke="#555" stroke-width="1"/>
<text x="609.6" y="189.4" font-family="Liberation Sans, sans-serif" font-size="9.3" fill="#262626" font-weight="normal" font-style="normal" text-anchor="middle" textLength="11.2" lengthAdjust="spacingAndGlyphs" >0.6</text>
<path d="M594.9,111.8 L594.8,112.5 L594.7,113.2 L594.6,114.0 L594.4,114.7 L594.2,115.4 L593.8,116.1 L593.5,116.8 L593.0,117.6 L592.6,118.3 L592.0,119.0 L591.4,119.7 L590.8,120.4 L590.1,121.2 L589.3,121.9 L588.5,122.6 L587.6,123.3 L586.7,124.0 L585.7,124.8 L584.6,125.5 L583.5,126.2 L582.3,126.9 L581.1,127.6 L579.8,128.4 L578.5,129.1 L577.1,129.8 L575.7,130.5 L574.2,131.2 L572.6,132.0 L571.0,132.7 L569.3,133.4 L567.6,134.1 L565.8,134.8 L563.9,135.6 L562.0,136.3 L560.1,137.0 L558.1,137.7 L556.0,138.4 L553.8,139.2 L551.7,139.9 L549.4,140.6 L547.1,141.3 L544.8,142.0 L542.3,142.8 L539.9,143.5 L537.3,144.2 L534.8,144.9 L532.1,145.6 L529.4,146.4 L526.7,147.1 L523.9,147.8 L521.0,148.5 L518.1,149.2 L515.1,150.0 L512.0,150.7 L508.9,151.4 L505.8,152.1 L502.6,152.8 L499.3,153.6 L496.0,154.3 L492.6,155.0 L489.2,155.7 L485.7,156.4 L482.1,157.2 L478.5,157.9 L474.9,158.6 L471.1,159.3 L467.4,160.0 L463.5,160.8 L459.6,161.5 L455.7,162.2 L451.7,162.9 L447.6,163.6 L443.5,164.4 L439.3,165.1 L435.1,165.8 L430.8,166.5 L426.5,167.2 L422.1,168.0 L417.6,168.7 L413.1,169.4 L408.5,170.1 L403.9,170.8 L399.2,171.6 L394.5,172.3 L389.7,173.0 L384.8,173.7 L379.9,174.4 L374.9,175.2 L369.9,175.9 L364.8,176.6" fill="none" stroke="#f0903a" stroke-width="1.6" stroke-dasharray="5 3"/>
<path d="M594.9,111.8 L594.8,111.0 L594.7,110.1 L594.6,109.3 L594.4,108.5 L594.2,107.6 L593.8,106.8 L593.5,106.0 L593.0,105.1 L592.6,104.3 L592.0,103.5 L591.4,102.7 L590.8,101.9 L590.1,101.1 L589.3,100.2 L588.5,99.4 L587.6,98.6 L586.7,97.9 L585.7,97.1 L584.6,96.3 L583.5,95.5 L582.3,94.7 L581.1,94.0 L579.8,93.2 L578.5,92.4 L577.1,91.7 L575.7,90.9 L574.2,90.2 L572.6,89.5 L571.0,88.7 L569.3,88.0 L567.6,87.3 L565.8,86.6 L563.9,85.9 L562.0,85.2 L560.1,84.5 L558.1,83.8 L556.0,83.1 L553.8,82.4 L551.7,81.8 L549.4,81.1 L547.1,80.4 L544.8,79.8 L542.3,79.1 L539.9,78.5 L537.3,77.8 L534.8,77.2 L532.1,76.6 L529.4,75.9 L526.7,75.3 L523.9,74.7 L521.0,74.1 L518.1,73.5 L515.1,72.9 L512.0,72.2 L508.9,71.6 L505.8,71.0 L502.6,70.4 L499.3,69.8 L496.0,69.2 L492.6,68.6 L489.2,67.9 L485.7,67.2 L482.1,66.4 L478.5,65.7 L474.9,65.0 L471.1,64.3 L467.4,63.6 L463.5,62.8 L459.6,62.1 L455.7,61.4 L451.7,60.7 L447.6,60.0 L443.5,59.2 L439.3,58.5 L435.1,57.8 L430.8,57.1 L426.5,56.4 L422.1,55.6 L417.6,54.9 L413.1,54.2 L408.5,53.5 L403.9,52.8 L399.2,52.0 L394.5,51.3 L389.7,50.6 L384.8,49.9 L379.9,49.2 L374.9,48.4 L369.9,47.7 L364.8,47.0" fill="none" stroke="#7030a0" stroke-width="2"/>
<line x1="365" y1="176.6" x2="632.3" y2="176.6" stroke="#808080" stroke-width="1"/>
<line x1="357" y1="176.6" x2="624" y2="176.6" stroke="#7030a0" stroke-width="1.9"/>
<line x1="569.4" y1="4" x2="569.4" y2="88" stroke="#5b90cd" stroke-width="1.8"/>
<polyline points="565.4,31.2 569.4,38.2 573.4,31.2" fill="none" stroke="#4a7cc0" stroke-width="1.7"/>
<circle cx="569.4" cy="4.2" r="2.3" fill="#2f5597"/>
<circle cx="518.1" cy="74" r="2" fill="#2f5597"/>
<polyline points="552,77 545.5,80.6 552,83" fill="none" stroke="#4a7cc0" stroke-width="1.7"/>
<text x="579.0" y="16.6" font-family="Liberation Sans, sans-serif" font-size="8.4" fill="#000" font-weight="bold" font-style="normal" text-anchor="start" textLength="44.8" lengthAdjust="spacingAndGlyphs" >Initial state</text>
<text x="495.7" y="87.5" font-family="Liberation Sans, sans-serif" font-size="8.2" fill="#000" font-weight="bold" font-style="normal" text-anchor="start" textLength="40" lengthAdjust="spacingAndGlyphs" >Final state</text>
<text x="492.8" y="43.6" font-family="Liberation Sans, sans-serif" font-size="11" fill="#000" font-weight="bold" font-style="normal" text-anchor="start" textLength="29.1" lengthAdjust="spacingAndGlyphs" >Social</text>
<text x="492.8" y="59.6" font-family="Liberation Sans, sans-serif" font-size="11" fill="#000" font-weight="bold" font-style="normal" text-anchor="start" textLength="65.2" lengthAdjust="spacingAndGlyphs" >tipping point</text>
<line x1="551.7" y1="66" x2="565" y2="81" stroke="#000" stroke-width="2.6"/>
<polyline points="557.5,80.5 566.6,83 565,74.5" fill="none" stroke="#000" stroke-width="2.6"/>
<text x="366.0" y="57.2" font-family="Liberation Sans, sans-serif" font-size="10.6" fill="#7030a0" font-weight="bold" font-style="italic" text-anchor="start" textLength="124" lengthAdjust="spacingAndGlyphs" transform="rotate(7.6 366.0 57.2)" stroke="#7030a0" stroke-width="0.3">Stable ecological equilibria</text>
<text x="371.7" y="168.7" font-family="Liberation Sans, sans-serif" font-size="10.6" fill="#a9561a" font-weight="bold" font-style="italic" text-anchor="start" textLength="113.5" lengthAdjust="spacingAndGlyphs" transform="rotate(-5.6 371.7 168.7)" stroke="#a9561a" stroke-width="0.3">Ecological tipping points</text>
<text x="498.8" y="173.5" font-family="Liberation Sans, sans-serif" font-size="10.4" fill="#7030a0" font-weight="bold" font-style="italic" text-anchor="start" textLength="127" lengthAdjust="spacingAndGlyphs" stroke="#7030a0" stroke-width="0.3">Stable ecological equilibria</text>
<text x="453.7" y="207.5" font-family="Liberation Sans, sans-serif" font-size="10" fill="#000" font-weight="bold" font-style="normal" text-anchor="start" textLength="56" lengthAdjust="spacingAndGlyphs" >Exploitation</text>
<text x="511.9" y="207.5" font-family="Liberation Serif, serif" font-size="12.3" fill="#000" font-weight="bold" font-style="italic" text-anchor="start" textLength="8" lengthAdjust="spacingAndGlyphs" >E</text>
<text x="338.3" y="95.0" font-family="Liberation Sans, sans-serif" font-size="9.6" fill="#000" font-weight="bold" font-style="normal" text-anchor="middle" textLength="161" lengthAdjust="spacingAndGlyphs" transform="rotate(-90 338.3 95.0)" >State <tspan font-family="Liberation Serif, serif" font-style="italic" font-weight="normal">x</tspan> of the ecosystem (biomass)</text>
<line x1="361.8" y1="252.3" x2="629.2" y2="252.3" stroke="#808080" stroke-width="1"/>
<line x1="629.2" y1="252.3" x2="629.2" y2="425.5" stroke="#808080" stroke-width="1"/>
<line x1="361.8" y1="252.3" x2="361.8" y2="425.5" stroke="#7a7a7a" stroke-width="1.6"/>
<line x1="358.8" y1="425.5" x2="361.8" y2="425.5" stroke="#555" stroke-width="1"/>
<text x="355.2" y="428.8" font-family="Liberation Sans, sans-serif" font-size="9.2" fill="#262626" font-weight="normal" font-style="normal" text-anchor="end" textLength="11.2" lengthAdjust="spacingAndGlyphs" >0.0</text>
<line x1="358.8" y1="403.9" x2="361.8" y2="403.9" stroke="#555" stroke-width="1"/>
<text x="355.2" y="407.2" font-family="Liberation Sans, sans-serif" font-size="9.2" fill="#262626" font-weight="normal" font-style="normal" text-anchor="end" textLength="11.2" lengthAdjust="spacingAndGlyphs" >0.5</text>
<line x1="358.8" y1="382.3" x2="361.8" y2="382.3" stroke="#555" stroke-width="1"/>
<text x="355.2" y="385.6" font-family="Liberation Sans, sans-serif" font-size="9.2" fill="#262626" font-weight="normal" font-style="normal" text-anchor="end" textLength="11.2" lengthAdjust="spacingAndGlyphs" >1.0</text>
<line x1="358.8" y1="360.7" x2="361.8" y2="360.7" stroke="#555" stroke-width="1"/>
<text x="355.2" y="364.0" font-family="Liberation Sans, sans-serif" font-size="9.2" fill="#262626" font-weight="normal" font-style="normal" text-anchor="end" textLength="11.2" lengthAdjust="spacingAndGlyphs" >1.5</text>
<line x1="358.8" y1="339.1" x2="361.8" y2="339.1" stroke="#555" stroke-width="1"/>
<text x="355.2" y="342.4" font-family="Liberation Sans, sans-serif" font-size="9.2" fill="#262626" font-weight="normal" font-style="normal" text-anchor="end" textLength="11.2" lengthAdjust="spacingAndGlyphs" >2.0</text>
<line x1="358.8" y1="317.5" x2="361.8" y2="317.5" stroke="#555" stroke-width="1"/>
<text x="355.2" y="320.8" font-family="Liberation Sans, sans-serif" font-size="9.2" fill="#262626" font-weight="normal" font-style="normal" text-anchor="end" textLength="11.2" lengthAdjust="spacingAndGlyphs" >2.5</text>
<line x1="358.8" y1="295.9" x2="361.8" y2="295.9" stroke="#555" stroke-width="1"/>
<text x="355.2" y="299.2" font-family="Liberation Sans, sans-serif" font-size="9.2" fill="#262626" font-weight="normal" font-style="normal" text-anchor="end" textLength="11.2" lengthAdjust="spacingAndGlyphs" >3.0</text>
<line x1="358.8" y1="274.3" x2="361.8" y2="274.3" stroke="#555" stroke-width="1"/>
<text x="355.2" y="277.6" font-family="Liberation Sans, sans-serif" font-size="9.2" fill="#262626" font-weight="normal" font-style="normal" text-anchor="end" textLength="11.2" lengthAdjust="spacingAndGlyphs" >3.5</text>
<line x1="358.8" y1="252.7" x2="361.8" y2="252.7" stroke="#555" stroke-width="1"/>
<text x="355.2" y="256.0" font-family="Liberation Sans, sans-serif" font-size="9.2" fill="#262626" font-weight="normal" font-style="normal" text-anchor="end" textLength="11.2" lengthAdjust="spacingAndGlyphs" >4.0</text>
<line x1="361.8" y1="425.5" x2="361.8" y2="428.5" stroke="#555" stroke-width="1"/>
<text x="361.2" y="438.3" font-family="Liberation Sans, sans-serif" font-size="9.3" fill="#262626" font-weight="normal" font-style="normal" text-anchor="middle" textLength="11.2" lengthAdjust="spacingAndGlyphs" >0.0</text>
<line x1="402.9" y1="425.5" x2="402.9" y2="428.5" stroke="#555" stroke-width="1"/>
<text x="402.3" y="438.3" font-family="Liberation Sans, sans-serif" font-size="9.3" fill="#262626" font-weight="normal" font-style="normal" text-anchor="middle" textLength="11.2" lengthAdjust="spacingAndGlyphs" >0.1</text>
<line x1="444.0" y1="425.5" x2="444.0" y2="428.5" stroke="#555" stroke-width="1"/>
<text x="443.4" y="438.3" font-family="Liberation Sans, sans-serif" font-size="9.3" fill="#262626" font-weight="normal" font-style="normal" text-anchor="middle" textLength="11.2" lengthAdjust="spacingAndGlyphs" >0.2</text>
<line x1="485.1" y1="425.5" x2="485.1" y2="428.5" stroke="#555" stroke-width="1"/>
<text x="484.5" y="438.3" font-family="Liberation Sans, sans-serif" font-size="9.3" fill="#262626" font-weight="normal" font-style="normal" text-anchor="middle" textLength="11.2" lengthAdjust="spacingAndGlyphs" >0.3</text>
<line x1="526.2" y1="425.5" x2="526.2" y2="428.5" stroke="#555" stroke-width="1"/>
<text x="525.6" y="438.3" font-family="Liberation Sans, sans-serif" font-size="9.3" fill="#262626" font-weight="normal" font-style="normal" text-anchor="middle" textLength="11.2" lengthAdjust="spacingAndGlyphs" >0.4</text>
<line x1="567.3" y1="425.5" x2="567.3" y2="428.5" stroke="#555" stroke-width="1"/>
<text x="566.7" y="438.3" font-family="Liberation Sans, sans-serif" font-size="9.3" fill="#262626" font-weight="normal" font-style="normal" text-anchor="middle" textLength="11.2" lengthAdjust="spacingAndGlyphs" >0.5</text>
<line x1="608.4" y1="425.5" x2="608.4" y2="428.5" stroke="#555" stroke-width="1"/>
<text x="607.8" y="438.3" font-family="Liberation Sans, sans-serif" font-size="9.3" fill="#262626" font-weight="normal" font-style="normal" text-anchor="middle" textLength="11.2" lengthAdjust="spacingAndGlyphs" >0.6</text>
<path d="M566.8,252.8 L566.8,336.9 C566.9,336.9 567.0,336.8 567.3,336.9 C567.6,337.0 568.3,337.3 568.7,337.5 C569.2,337.7 569.6,337.9 570.1,338.1 C570.5,338.3 571.0,338.5 571.4,338.7 C571.9,338.9 572.3,339.1 572.7,339.4 C573.2,339.6 573.6,339.8 574.0,340.0 C574.4,340.2 574.8,340.4 575.2,340.6 C575.6,340.8 576.0,341.0 576.4,341.2 C576.8,341.4 577.1,341.7 577.5,341.9 C577.9,342.1 578.3,342.3 578.6,342.5 C579.0,342.7 579.3,342.9 579.7,343.2 C580.0,343.4 580.4,343.6 580.7,343.8 C581.0,344.0 581.3,344.2 581.7,344.5 C582.0,344.7 582.3,344.9 582.6,345.1 C582.9,345.3 583.2,345.6 583.5,345.8 C583.8,346.0 584.1,346.2 584.3,346.4 C584.6,346.7 584.9,346.9 585.2,347.1 C585.4,347.3 585.7,347.5 585.9,347.8 C586.2,348.0 586.4,348.2 586.7,348.4 C586.9,348.7 587.1,348.9 587.4,349.1 C587.6,349.3 587.3,349.5 588.0,349.8 C588.7,350.1 590.4,350.4 591.5,351.1 C592.6,351.8 593.8,352.7 594.9,354.0 C596.0,355.3 597.3,357.3 598.2,359.0 C599.1,360.7 599.7,362.2 600.2,364.0 C600.8,365.8 601.1,367.6 601.5,369.8 C601.9,372.0 602.4,374.7 602.8,377.2 C603.1,379.7 603.4,382.0 603.6,385.0 C603.8,388.0 604.1,388.2 604.2,395.0 C604.3,401.8 604.4,420.4 604.4,425.5" fill="none" stroke="#5b90cd" stroke-width="1.8"/>
<path d="M593.0,360.7 L593.0,361.4 L592.9,362.1 L592.7,362.9 L592.5,363.6 L592.3,364.3 L592.0,365.0 L591.6,365.7 L591.2,366.5 L590.7,367.2 L590.1,367.9 L589.5,368.6 L588.9,369.3 L588.2,370.1 L587.4,370.8 L586.6,371.5 L585.7,372.2 L584.7,372.9 L583.7,373.7 L582.7,374.4 L581.6,375.1 L580.4,375.8 L579.2,376.5 L577.9,377.3 L576.5,378.0 L575.1,378.7 L573.7,379.4 L572.2,380.1 L570.6,380.9 L569.0,381.6 L567.3,382.3 L565.6,383.0 L563.8,383.7 L561.9,384.5 L560.0,385.2 L558.0,385.9 L556.0,386.6 L553.9,387.3 L551.8,388.1 L549.6,388.8 L547.3,389.5 L545.0,390.2 L542.6,390.9 L540.2,391.7 L537.7,392.4 L535.2,393.1 L532.6,393.8 L529.9,394.5 L527.2,395.3 L524.5,396.0 L521.6,396.7 L518.8,397.4 L515.8,398.1 L512.8,398.9 L509.8,399.6 L506.6,400.3 L503.5,401.0 L500.3,401.7 L497.0,402.5 L493.6,403.2 L490.2,403.9 L486.8,404.6 L483.3,405.3 L479.7,406.1 L476.1,406.8 L472.4,407.5 L468.7,408.2 L464.9,408.9 L461.0,409.7 L457.1,410.4 L453.1,411.1 L449.1,411.8 L445.0,412.5 L440.9,413.3 L436.7,414.0 L432.4,414.7 L428.1,415.4 L423.8,416.1 L419.3,416.9 L414.9,417.6 L410.3,418.3 L405.7,419.0 L401.1,419.7 L396.4,420.5 L391.6,421.2 L386.8,421.9 L381.9,422.6 L377.0,423.3 L372.0,424.1 L366.9,424.8 L361.8,425.5" fill="none" stroke="#f0903a" stroke-width="1.6" stroke-dasharray="5 3"/>
<path d="M593.0,362.3 L593.0,361.5 L592.9,360.6 L592.7,359.8 L592.5,359.0 L592.3,358.1 L592.0,357.3 L591.6,356.5 L591.2,355.6 L590.7,354.8 L590.1,354.0 L589.5,353.2 L588.9,352.4 L588.2,351.6 L587.4,350.7 L586.6,349.9 L585.7,349.1 L584.7,348.4 L583.7,347.6 L582.7,346.8 L581.6,346.0 L580.4,345.2 L579.2,344.5 L577.9,343.7 L576.5,342.9 L575.1,342.2 L573.7,341.4 L572.2,340.7 L570.6,340.0 L569.0,339.2 L567.3,338.5" fill="none" stroke="#f0903a" stroke-width="1.4" stroke-dasharray="4 2"/>
<path d="M593.0,360.7 L593.0,359.9 L592.9,359.0 L592.7,358.2 L592.5,357.4 L592.3,356.5 L592.0,355.7 L591.6,354.9 L591.2,354.0 L590.7,353.2 L590.1,352.4 L589.5,351.6 L588.9,350.8 L588.2,350.0 L587.4,349.1 L586.6,348.3 L585.7,347.5 L584.7,346.8 L583.7,346.0 L582.7,345.2 L581.6,344.4 L580.4,343.6 L579.2,342.9 L577.9,342.1 L576.5,341.3 L575.1,340.6 L573.7,339.8 L572.2,339.1 L570.6,338.4 L569.0,337.6 L567.3,336.9 L565.6,336.2 L563.8,335.5 L561.9,334.8 L560.0,334.1 L558.0,333.4 L556.0,332.7 L553.9,332.0 L551.8,331.3 L549.6,330.7 L547.3,330.0 L545.0,329.3 L542.6,328.7 L540.2,328.0 L537.7,327.4 L535.2,326.7 L532.6,326.1 L529.9,325.5 L527.2,324.8 L524.5,324.2 L521.6,323.6 L518.8,323.0 L515.8,322.4 L512.8,321.8 L509.8,321.1 L506.6,320.5 L503.5,319.9 L500.3,319.3 L497.0,318.7 L493.6,318.1 L490.2,317.5 L486.8,316.8 L483.3,316.1 L479.7,315.3 L476.1,314.6 L472.4,313.9 L468.7,313.2 L464.9,312.5 L461.0,311.7 L457.1,311.0 L453.1,310.3 L449.1,309.6 L445.0,308.9 L440.9,308.1 L436.7,307.4 L432.4,306.7 L428.1,306.0 L423.8,305.3 L419.3,304.5 L414.9,303.8 L410.3,303.1 L405.7,302.4 L401.1,301.7 L396.4,300.9 L391.6,300.2 L386.8,299.5 L381.9,298.8 L377.0,298.1 L372.0,297.3 L366.9,296.6 L361.8,295.9" fill="none" stroke="#7030a0" stroke-width="2"/>
<line x1="362" y1="425.5" x2="629.2" y2="425.5" stroke="#808080" stroke-width="1"/>
<line x1="357" y1="425.5" x2="626.5" y2="425.5" stroke="#7030a0" stroke-width="1.5"/>
<polyline points="562.8,276.5 566.8,283 570.8,276.5" fill="none" stroke="#4a7cc0" stroke-width="1.7"/>
<polyline points="600.4,390.5 604.4,397 608.4,390.5" fill="none" stroke="#4a7cc0" stroke-width="1.7"/>
<polyline points="586.6,343.3 590.3,349.6 583.7,349.3" fill="none" stroke="#4a7cc0" stroke-width="1.7"/>
<circle cx="566.8" cy="253" r="2.3" fill="#2f5597"/>
<line x1="604.4" y1="425.5" x2="616" y2="425.5" stroke="#5b90cd" stroke-width="1.4"/>
<circle cx="604.4" cy="425.5" r="2.2" fill="#2f5597"/>
<text x="572.9" y="261.0" font-family="Liberation Sans, sans-serif" font-size="8.4" fill="#000" font-weight="bold" font-style="normal" text-anchor="start" textLength="44.6" lengthAdjust="spacingAndGlyphs" >Initial state</text>
<text x="615.7" y="435.5" font-family="Liberation Sans, sans-serif" font-size="8.2" fill="#000" font-weight="bold" font-style="normal" text-anchor="start" textLength="40.5" lengthAdjust="spacingAndGlyphs" >Final state</text>
<text x="489.8" y="276.8" font-family="Liberation Sans, sans-serif" font-size="11" fill="#000" font-weight="bold" font-style="normal" text-anchor="start" textLength="30" lengthAdjust="spacingAndGlyphs" >Social</text>
<text x="489.8" y="290.8" font-family="Liberation Sans, sans-serif" font-size="11" fill="#000" font-weight="bold" font-style="normal" text-anchor="start" textLength="67" lengthAdjust="spacingAndGlyphs" >tipping point</text>
<text x="574.1" y="297.4" font-family="Liberation Sans, sans-serif" font-size="11" fill="#000" font-weight="bold" font-style="normal" text-anchor="start" textLength="49.7" lengthAdjust="spacingAndGlyphs" >Ecological</text>
<text x="574.1" y="313.2" font-family="Liberation Sans, sans-serif" font-size="11" fill="#000" font-weight="bold" font-style="normal" text-anchor="start" textLength="66.1" lengthAdjust="spacingAndGlyphs" >tipping point</text>
<line x1="520.5" y1="306.9" x2="560" y2="330.5" stroke="#000" stroke-width="2.6"/>
<polyline points="552,331.5 562.3,332 557.5,323" fill="none" stroke="#000" stroke-width="2.6"/>
<line x1="607.7" y1="319.4" x2="596.5" y2="349.5" stroke="#000" stroke-width="2.6"/>
<polyline points="594.4,342.4 595.7,352 603.6,345.3" fill="none" stroke="#000" stroke-width="2.6"/>
<text x="370.6" y="310.1" font-family="Liberation Sans, sans-serif" font-size="10.6" fill="#7030a0" font-weight="bold" font-style="italic" text-anchor="start" textLength="124" lengthAdjust="spacingAndGlyphs" transform="rotate(7.3 370.6 310.1)" stroke="#7030a0" stroke-width="0.3">Stable ecological equilibria</text>
<text x="371.5" y="416.5" font-family="Liberation Sans, sans-serif" font-size="10.6" fill="#a9561a" font-weight="bold" font-style="italic" text-anchor="start" textLength="113.5" lengthAdjust="spacingAndGlyphs" transform="rotate(-6.1 371.5 416.5)" stroke="#a9561a" stroke-width="0.3">Ecological tipping points</text>
<text x="460.3" y="424.0" font-family="Liberation Sans, sans-serif" font-size="10.4" fill="#7030a0" font-weight="bold" font-style="italic" text-anchor="start" textLength="126.4" lengthAdjust="spacingAndGlyphs" stroke="#7030a0" stroke-width="0.3">Stable ecological equilibria</text>
<text x="453.0" y="454.8" font-family="Liberation Sans, sans-serif" font-size="10" fill="#000" font-weight="bold" font-style="normal" text-anchor="start" textLength="55.4" lengthAdjust="spacingAndGlyphs" >Exploitation</text>
<text x="511.2" y="454.8" font-family="Liberation Serif, serif" font-size="12.3" fill="#000" font-weight="bold" font-style="italic" text-anchor="start" textLength="7.5" lengthAdjust="spacingAndGlyphs" >E</text>
<text x="336.8" y="340.0" font-family="Liberation Sans, sans-serif" font-size="9.6" fill="#000" font-weight="bold" font-style="normal" text-anchor="middle" textLength="161" lengthAdjust="spacingAndGlyphs" transform="rotate(-90 336.8 340.0)" >State <tspan font-family="Liberation Serif, serif" font-style="italic" font-weight="normal">x</tspan> of the ecosystem (biomass)</text>
<path d="M280.3,35.0 C282.4,33.7 287.2,30.2 293.2,27.4 C299.1,24.5 308.9,20.3 316.0,17.9 C323.1,15.5 329.5,14.5 335.8,13.2 C342.1,11.9 347.5,10.9 354.0,10.0 C360.5,9.1 366.5,8.1 375.0,7.6 C383.5,7.1 394.2,6.6 405.0,7.0 C415.8,7.4 429.0,8.2 440.0,10.0 C451.0,11.8 463.4,15.1 471.2,17.8 C479.0,20.5 483.0,23.4 486.8,26.2 C490.6,29.0 493.0,33.4 494.2,34.9" fill="none" stroke="#555" stroke-width="1" stroke-dasharray="2.6 2"/>
<polyline points="495.2,29.6 494.2,34.9 489.6,32.4" fill="none" stroke="#555" stroke-width="1"/>
<path d="M278.2,311.6 C280.6,309.8 287.6,304.1 292.8,301.0 C298.0,297.9 303.2,295.5 309.5,292.7 C315.8,289.9 324.2,286.6 330.8,284.3 C337.4,282.0 342.5,280.9 349.0,279.0 C355.5,277.1 361.9,274.8 370.0,273.2 C378.1,271.6 388.3,270.5 397.4,269.6 C406.5,268.7 415.6,268.1 424.7,267.8 C433.8,267.6 444.2,267.9 452.1,268.1 C460.0,268.3 467.3,268.9 472.2,269.2 C477.1,269.5 479.8,269.9 481.3,270.0" fill="none" stroke="#555" stroke-width="1" stroke-dasharray="2.6 2"/>
<polyline points="476.8,267.4 481.3,270 476.8,272.7" fill="none" stroke="#555" stroke-width="1"/>
<text x="254.2" y="231.9" font-family="Liberation Serif, serif" font-size="13.4" fill="#000" font-weight="normal" font-style="normal" text-anchor="start" textLength="130.2" lengthAdjust="spacingAndGlyphs" >a - Transition pathway 1</text>
<text x="254.2" y="479.0" font-family="Liberation Serif, serif" font-size="13.4" fill="#000" font-weight="normal" font-style="normal" text-anchor="start" textLength="132.7" lengthAdjust="spacingAndGlyphs" >b - Transition pathway 2</text>
</svg>
</body></html>
